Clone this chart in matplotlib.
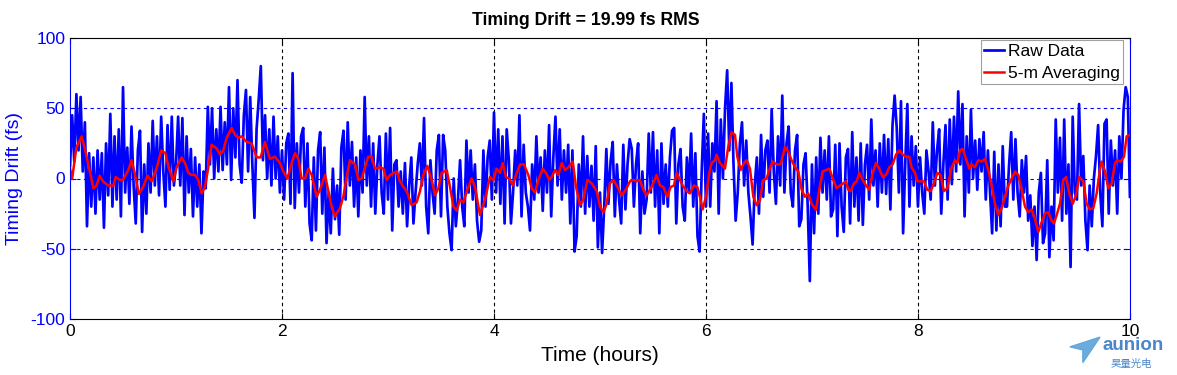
import numpy as np
import matplotlib.pyplot as plt
from matplotlib.patches import Polygon

# raw timing drift samples (fs), one every 0.02 h
raw_h0 = [9, 45, 12, 60, 20, 58, 5, 40, -34, 18, -20, 15, -25, 20, -15, 18, -35, 25, -12, 46,
          -20, 30, -15, 35, -27, 65, -10, 22, -18, 37, -5, -32, 20, 34, -38, 10, -25, 25, -10, 41,
          -5, 30, -12, 44, 5, -20, 38, -8, 44, -5]
raw_h1 = [10, 44, -5, 43, -26, 30, -10, 21, -27, 15, -20, 10, -39, 5, -7, 51, 10, 50, 0, 35,
          5, 51, 6, 40, 10, 65, -1, 50, 15, 70, 10, -3, 45, 63, 5, 58, 10, -28, 35, 56,
          80, 13, 45, 0, 35, -5, 44, 0, 30, -10]
raw_h2 = [20, -15, 25, 32, -18, 75, -21, 25, -10, 30, 36, -20, 25, -32, -44, 15, -37, 20, 33, -25,
          22, -46, -10, -39, 7, -29, -5, -40, 22, 34, -15, 40, -5, 26, -20, 15, -27, 20, -10, 58,
          -5, 30, -20, 25, -25, 10, 30, -10, -25, 32]
raw_h3 = [-15, 36, -37, 10, 13, -20, 5, -25, 11, -34, -5, 15, -32, -10, 10, 25, -5, 43, -20, -39,
          13, -10, -25, 20, 31, -27, 31, 20, -20, -39, -51, 0, -34, -15, 13, -20, -34, 27, -10, 20,
          -15, 10, -30, -45, -37, 20, -20, 15, 27, -15]
raw_h4 = [47, -10, 35, -18, 30, -32, 35, 13, -32, -10, 20, -5, 45, -27, 24, -10, -20, -37, 10, -15,
          30, -10, 15, -23, 20, -10, 38, -27, 15, 44, -5, 35, -15, 20, -10, 24, -32, 20, -52, -41,
          10, -20, 30, -25, 16, -20, 9, -30, 23, -49]
raw_h5 = [-10, -53, -20, 21, -18, 12, 26, -27, 10, -15, -32, 24, -22, 10, 28, 21, -20, 10, 25, -39,
          5, -25, -15, 32, -10, 33, -20, 20, -39, 25, -18, 10, -20, 15, 34, 36, -32, 10, 21, -20,
          -30, 15, -10, 32, -20, 18, -41, -52, 6, 46]
raw_h6 = [-20, 32, -20, 25, 5, 55, -25, 42, 0, 50, 77, 20, 68, 10, -30, -10, 25, 40, -5, 27,
          -10, -27, -47, -5, 15, -25, 31, -13, 20, 27, -10, 49, 5, -18, 30, -5, 59, -10, 25, 37,
          -10, -20, 20, 31, -34, -29, 10, 18, -20, -73]
raw_h7 = [10, -39, 15, -25, 29, -10, 20, -15, 30, -27, -22, 24, -41, 25, -20, -38, 15, 21, -32, 33,
          -20, 15, -30, 25, -33, 10, 24, -15, 42, -5, 20, -20, 25, -10, 31, -11, 28, -22, 38, 59,
          36, -10, 55, -39, 10, 53, -20, 30, -5, 23]
raw_h8 = [-20, 15, -10, -25, 20, 5, -15, 40, -5, 20, 35, -25, 10, 38, -15, 42, -4, 44, 5, 62,
          10, 53, -27, 30, -10, 49, 0, 27, -8, 28, 5, 33, -15, 20, -10, -39, 19, -37, 10, -34,
          23, -20, -20, 10, 33, -15, 28, -10, -27, 13]
raw_h9 = [-10, 16, -30, -12, -48, -20, -58, -10, 4, -46, -39, 13, -56, -20, -44, 42, -10, 29, -30, 42,
          -25, 10, -63, 44, -10, -15, 53, -5, 16, -30, -51, -5, -34, 0, 16, 38, -10, -34, 39, 42,
          -25, 27, -5, 20, -25, 30, 0, 49, 65, 58, -13]

# 5-minute moving average (hours, fs)
avg_t = [0.00, 0.02, 0.06, 0.11, 0.14, 0.19, 0.22, 0.25, 0.28, 0.31, 0.36, 0.41, 0.43, 0.47, 0.50,
         0.55, 0.58, 0.61, 0.65, 0.69, 0.73, 0.77, 0.82, 0.86, 0.90, 0.93, 0.975,
         1.006, 1.053, 1.085, 1.116, 1.147, 1.179, 1.21, 1.242, 1.273, 1.305, 1.336, 1.383, 1.415,
         1.446, 1.478, 1.525, 1.556, 1.588, 1.619, 1.666, 1.713, 1.761, 1.798, 1.839, 1.886, 1.934, 1.981,
         2.013, 2.05, 2.091, 2.123, 2.154, 2.185, 2.217, 2.248, 2.28, 2.327, 2.358, 2.406, 2.437,
         2.468, 2.5, 2.547, 2.578, 2.61, 2.641, 2.689, 2.72, 2.751, 2.783, 2.814, 2.846, 2.877,
         2.924, 2.956, 2.987,
         3.019, 3.05, 3.082, 3.113, 3.145, 3.176, 3.223, 3.27, 3.302, 3.333, 3.371, 3.412, 3.443,
         3.475, 3.506, 3.554, 3.585, 3.617, 3.648, 3.679, 3.711, 3.749, 3.789, 3.821, 3.868, 3.915,
         3.962, 3.994,
         4.025, 4.057, 4.082, 4.114, 4.145, 4.177, 4.208, 4.246, 4.283, 4.324, 4.356, 4.387, 4.419,
         4.46, 4.491, 4.522, 4.544, 4.576, 4.607, 4.639, 4.67, 4.702, 4.743, 4.774, 4.812, 4.843,
         4.881, 4.922, 4.969,
         5.0, 5.032, 5.063, 5.094, 5.126, 5.157, 5.204, 5.251, 5.283, 5.314, 5.346, 5.377, 5.409,
         5.44, 5.487, 5.534, 5.566, 5.597, 5.635, 5.667, 5.698, 5.723, 5.754, 5.78, 5.817, 5.849,
         5.886, 5.918, 5.943, 5.968,
         6.0, 6.031, 6.053, 6.085, 6.1, 6.132, 6.179, 6.211, 6.242, 6.274, 6.296, 6.327, 6.358,
         6.384, 6.415, 6.447, 6.478, 6.509, 6.541, 6.572, 6.597, 6.629, 6.667, 6.704, 6.745, 6.777,
         6.808, 6.84, 6.871, 6.903, 6.934, 6.965, 6.997,
         7.038, 7.069, 7.101, 7.132, 7.164, 7.201, 7.233, 7.264, 7.296, 7.321, 7.343, 7.365, 7.396,
         7.422, 7.447, 7.478, 7.51, 7.541, 7.573, 7.604, 7.635, 7.667, 7.698, 7.73, 7.761, 7.793,
         7.824, 7.856, 7.887, 7.918, 7.94, 7.972, 7.994,
         8.025, 8.057, 8.088, 8.12, 8.151, 8.183, 8.214, 8.245, 8.277, 8.318, 8.35, 8.372, 8.397,
         8.422, 8.453, 8.485, 8.507, 8.538, 8.57, 8.601, 8.633, 8.664, 8.695, 8.727, 8.758, 8.79,
         8.821, 8.853, 8.884, 8.916, 8.947, 8.979,
         9.01, 9.041, 9.073, 9.104, 9.136, 9.167, 9.198, 9.23, 9.261, 9.283, 9.309, 9.34, 9.371,
         9.397, 9.428, 9.46, 9.491, 9.522, 9.56, 9.592, 9.623, 9.655, 9.686, 9.717, 9.733, 9.765,
         9.796, 9.828, 9.859, 9.881, 9.912, 9.944, 9.969, 10.0]
avg_v = [7, 0, 22, 30, 21, 4, -7, -5, 2, -2, -5, -5, 1, -1, -1,
         6, 13, 4, -11, -6, 2, -2, 8, 20, 18, 8, -2,
         8, 15, 11, 4, 2.5, 2.5, -1, -10.6, -6, 8, 24, 21.5, 17,
         20, 29, 36, 31, 29, 30, 26, 25, 15, 15, 26, 14, 15.5, 11,
         5, 0, 11, 18, 14, 0, 0, 7, 2.5, -13, -8, 2.5, -9,
         -20, -27, -21, -13, 1, 13, 10, -1, 0, 8, 15.5, 15.5, 7,
         8, 7, -1,
         2.5, 3.7, 5, -2, -6, -9, -19, -17, -9, 2.5, 9, -1, -12,
         -7, 4, 6, -6, -20, -23, -15, -17, -8, 0, -6, -26, -15,
         1, -1,
         7, 4, 11, 1, 0, -5, 2.5, 10, 10, 2.5, -7, -10, -1,
         7, 4, -1, 1, 6, 2.5, 11, 6, 8, 12, -6, -19, -15,
         -1, -3.5, -9,
         -20, -24, -18, -3.5, -1, -5, -12, -7, -2, -1, -2, -1, -8,
         -12, -6, 2.5, -5, -6, -13, -6, -5, 4, -1, -5, -9, -10.6,
         -5, -6, -13, -22,
         -13, 3.7, 11, 13, 17, 11, 7, 23, 33, 31, 15.5, 6, 11,
         13, 7, -13, -19, -15.5, -1, 0, 6, 12, 10, 10, 22.5, 19,
         13, 8, 5, -8, -13, -10.6, -18,
         -22.4, -8, 5, 6, 7, -1, -7, -5, -3.5, -2, -8, -9, -3.5,
         -2, 4, -1, -5, -8, 4, 11, 7, 1, 2.5, 8, 10, 17,
         20, 17, 15.5, 15.5, 8, 4, -2,
         -2, -2, -8, -9, -3.5, 4, 2.5, -9, -7, 8, 13, 11, 20,
         21, 14, 7, 10, 8, 13, 12, 14, 6, -5, -18, -26, -21,
         -13, -5, 0, 5, 2.5, -8,
         -20, -24, -22, -29, -38, -31, -25, -24, -30, -32, -26, -18, -1,
         1, -10.6, -18, -12, 1, -2, -18, -22, -21, -10.6, 6, 12, 5,
         -7, -3.5, 11, 13, 12, 15.5, 30, 31]

x_ticks = [0, 2, 4, 6, 8, 10]
y_ticks = [-100, -50, 0, 50, 100]
rms_fs = 19.99

raw_v = np.concatenate([raw_h0, raw_h1, raw_h2, raw_h3, raw_h4,
                        raw_h5, raw_h6, raw_h7, raw_h8, raw_h9])
raw_t = np.arange(len(raw_v)) * 0.02
assert len(avg_t) == len(avg_v)

plt.rcParams['font.family'] = ['Liberation Sans', 'DejaVu Sans']
plt.rcParams['axes.unicode_minus'] = False
axis_blue = '#0000ff'

fig = plt.figure(figsize=(11.77, 3.75), dpi=100)
ax = fig.add_axes([0.0595, 0.1493, 0.9005, 0.7494])

ax.plot(raw_t, raw_v, color='#0000ff', lw=1.95, label='Raw Data')
ax.plot(avg_t, avg_v, color='#ff0000', lw=1.8, label='5-m Averaging')

ax.set_xlim(0, 10)
ax.set_ylim(-100, 100)
ax.set_xticks(x_ticks)
ax.set_yticks(y_ticks)

# grid: black dashed verticals, blue dashed horizontals (matlab style)
for xv in x_ticks[1:-1]:
    ax.axvline(xv, color='black', ls=(0, (3, 3)), lw=0.8, zorder=0)
for yv in y_ticks[1:-1]:
    ax.axhline(yv, color=axis_blue, ls=(0, (3, 3)), lw=0.8, zorder=0)

ax.tick_params(direction='in', length=4, labelsize=12.5, top=True, right=True)
ax.tick_params(axis='y', colors=axis_blue)
ax.spines['left'].set_color(axis_blue)
ax.spines['right'].set_color(axis_blue)
for s in ax.spines.values():
    s.set_linewidth(0.8)

ax.set_xlabel('Time (hours)', fontsize=15, labelpad=5)
ax.set_ylabel('Timing Drift (fs)', fontsize=14, color=axis_blue, labelpad=5)
ax.set_title(f'Timing Drift = {rms_fs:.2f} fs RMS', fontsize=12.7, fontweight='bold',
             pad=9, x=0.487)

leg = ax.legend(loc='upper right', bbox_to_anchor=(0.9935, 0.993), fontsize=12.5,
                frameon=True, fancybox=False, handlelength=1.15, handletextpad=0.2,
                borderpad=0.2, labelspacing=0.4, borderaxespad=0.0)
leg.get_frame().set_edgecolor('#888888')
leg.get_frame().set_linewidth(0.8)

# watermark logo, bottom right
plane = Polygon([[0.909, 0.075], [0.9346, 0.101], [0.920, 0.033], [0.920, 0.067]],
                closed=True, transform=fig.transFigure, color='#5ba3dc', alpha=0.9)
fig.patches.append(plane)
fig.text(0.937, 0.067, 'aunion', fontsize=13.5, fontweight='bold', color='#4a86c8',
         ha='left', va='baseline')
fig.text(0.961, 0.022, '昊量光电', fontsize=7.5, color='#4a86c8', ha='center', va='baseline',
         family=['Noto Sans CJK SC', 'DejaVu Sans'])

fig.savefig('out.png', dpi=100)
